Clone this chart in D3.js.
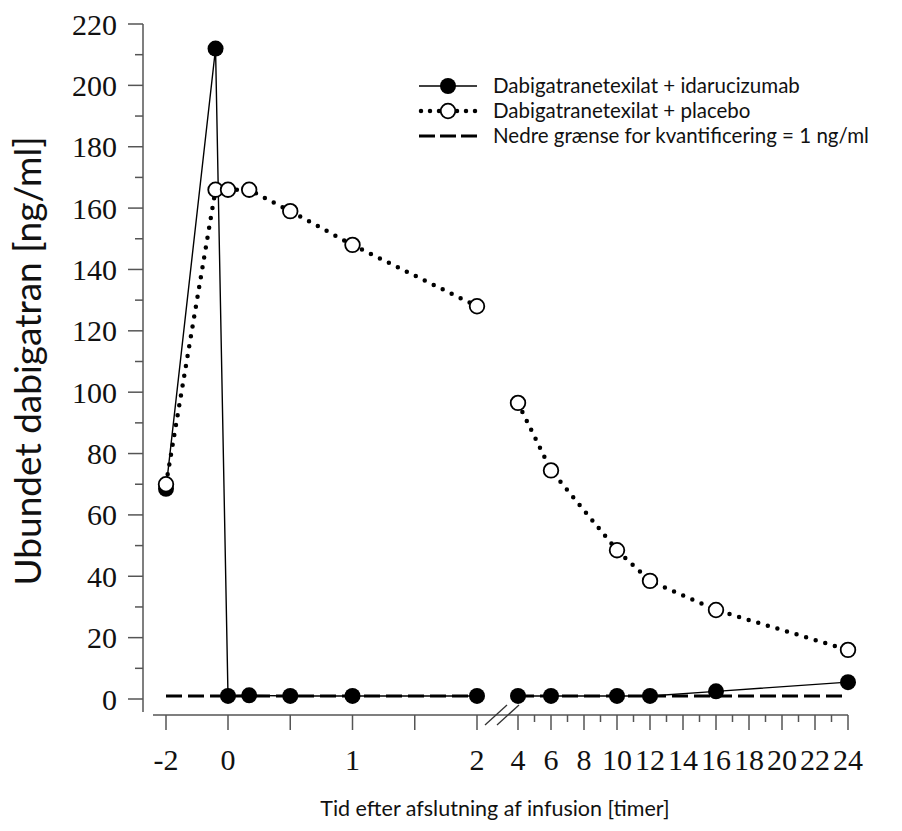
<!DOCTYPE html>
<html><head><meta charset="utf-8">
<script src="https://cdn.jsdelivr.net/npm/d3@7"></script>
<style>body{margin:0;background:#fff}svg{display:block}</style>
</head><body>
<svg id="c" width="902" height="831"></svg>
<script>
// ---- data ----
const times = [-2, -0.1, 0, 0.17, 0.5, 1, 2, 4, 6, 10, 12, 16, 24];
const idarucizumab = [68.5, 212, 1, 1.2, 1, 1, 1, 1, 1, 1, 1, 2.5, 5.5];
const placebo = [70, 166, 166, 166, 159, 148, 128, 96.5, 74.5, 48.5, 38.5, 29, 16];
const lloq = 1;
const yTicks = [0, 20, 40, 60, 80, 100, 120, 140, 160, 180, 200, 220];
const xTicksLeft = [-2, 0, 0.5, 1, 1.5, 2];
const xLabelsLeft = [-2, 0, 1, 2];
const xTicksRight = d3.range(4, 25, 1);
const xLabelsRight = [4, 6, 8, 10, 12, 14, 16, 18, 20, 22, 24];
const legendLabels = ["Dabigatranetexilat + idarucizumab", "Dabigatranetexilat + placebo", "Nedre grænse for kvantificering = 1 ng/ml"];
const yTitle = "Ubundet dabigatran [ng/ml]";
const xTitle = "Tid efter afslutning af infusion [timer]";

const svg = d3.select("#c");
const axisCol = "#555";
const serif = "'Liberation Serif','Times New Roman',serif";
const sans = "Lato,'Open Sans',sans-serif";

const y = d3.scaleLinear().domain([0, 220]).range([699, 24]);
const xL = d3.scaleLinear().domain([-2, -0.3, 2]).range([166, 190.65, 477]);
const xR = d3.scaleLinear().domain([4, 24]).range([518, 848]);
const xp = t => t <= 2 ? xL(t) : xR(t);

// y axis
const gy = svg.append("g").attr("stroke", axisCol).attr("stroke-width", 1.5);
gy.append("line").attr("x1", 143).attr("x2", 143).attr("y1", y(220)).attr("y2", 712);
d3.range(0, 221, 10).forEach(v => {
  const major = v % 20 === 0;
  gy.append("line").attr("x1", major ? 128 : 135).attr("x2", 143).attr("y1", y(v)).attr("y2", y(v));
});
svg.append("g").selectAll("text").data(yTicks).join("text")
  .attr("x", 117).attr("y", d => y(d)).attr("dy", "0.35em")
  .attr("text-anchor", "end").attr("font-family", serif).attr("font-size", 30).attr("fill", "#111")
  .text(d => d);

// x axis
const gx = svg.append("g").attr("stroke", axisCol).attr("stroke-width", 1.5);
gx.append("line").attr("x1", 153).attr("x2", xR(24)).attr("y1", 715).attr("y2", 715);
xTicksLeft.forEach(t => gx.append("line").attr("x1", xL(t)).attr("x2", xL(t)).attr("y1", 715).attr("y2", 730));
xTicksRight.forEach(t => {
  const major = t % 2 === 0;
  gx.append("line").attr("x1", xR(t)).attr("x2", xR(t)).attr("y1", 715).attr("y2", major ? 730 : 722);
});
// break marks
const brk = svg.append("g").attr("stroke", "#333").attr("stroke-width", 1.3);
brk.append("line").attr("x1", 485).attr("y1", 725).attr("x2", 507).attr("y2", 705);
brk.append("line").attr("x1", 497).attr("y1", 725).attr("x2", 519).attr("y2", 705);

svg.append("g").selectAll("text").data(xLabelsLeft).join("text")
  .attr("x", d => xL(d)).attr("y", 770).attr("text-anchor", "middle")
  .attr("font-family", serif).attr("font-size", 30).attr("fill", "#111")
  .text(d => d);
svg.append("g").selectAll("text").data(xLabelsRight).join("text")
  .attr("x", d => xR(d)).attr("y", 770).attr("text-anchor", "middle")
  .attr("font-family", serif).attr("font-size", 30).attr("fill", "#111")
  .text(d => d);

// titles
svg.append("text").attr("transform", "translate(41,361) rotate(-90)")
  .attr("text-anchor", "middle").attr("font-family", sans).attr("font-size", 37).attr("fill", "#111")
  .text(yTitle);
svg.append("text").attr("x", 495).attr("y", 816).attr("text-anchor", "middle")
  .attr("font-family", sans).attr("font-size", 21.5).attr("fill", "#111")
  .text(xTitle);

// series
const line = d3.line().x(d => xp(d[0])).y(d => y(d[1]));
const idaPts = times.map((t, i) => [t, idarucizumab[i]]);
const plaPts = times.map((t, i) => [t, placebo[i]]);
const split = pts => [pts.filter(d => d[0] <= 2), pts.filter(d => d[0] >= 4)];

// LLOQ
[[-2, 2], [4, 24]].forEach(([a, b]) => {
  svg.append("path").attr("d", line([[a, lloq], [b, lloq]]))
    .attr("stroke", "#000").attr("stroke-width", 3).attr("fill", "none")
    .attr("stroke-dasharray", "16,6");
});
split(idaPts).forEach(seg => svg.append("path").attr("d", line(seg))
  .attr("stroke", "#000").attr("stroke-width", 1.4).attr("fill", "none"));
split(plaPts).forEach(seg => svg.append("path").attr("d", line(seg))
  .attr("stroke", "#000").attr("stroke-width", 4.5).attr("fill", "none")
  .attr("stroke-linecap", "round").attr("stroke-dasharray", "0,10"));

svg.append("g").selectAll("circle").data(idaPts).join("circle")
  .attr("cx", d => xp(d[0])).attr("cy", d => y(d[1])).attr("r", 8).attr("fill", "#000");
svg.append("g").selectAll("circle").data(plaPts).join("circle")
  .attr("cx", d => xp(d[0])).attr("cy", d => y(d[1])).attr("r", 7.3)
  .attr("fill", "#fff").attr("stroke", "#000").attr("stroke-width", 1.8);

// legend
const lg = svg.append("g");
const rowY = [86, 111, 136];
const lx1 = 419, lx2 = 477, lxm = 448;
lg.append("line").attr("x1", lx1).attr("x2", lx2).attr("y1", rowY[0]).attr("y2", rowY[0]).attr("stroke", "#000").attr("stroke-width", 1.4);
lg.append("circle").attr("cx", lxm).attr("cy", rowY[0]).attr("r", 8).attr("fill", "#000");
lg.append("line").attr("x1", lx1 + 2).attr("x2", lx2).attr("y1", rowY[1]).attr("y2", rowY[1]).attr("stroke", "#000")
  .attr("stroke-width", 4.5).attr("stroke-linecap", "round").attr("stroke-dasharray", "0,9");
lg.append("circle").attr("cx", lxm).attr("cy", rowY[1]).attr("r", 7.3).attr("fill", "#fff").attr("stroke", "#000").attr("stroke-width", 1.8);
lg.append("line").attr("x1", lx1).attr("x2", lx2).attr("y1", rowY[2]).attr("y2", rowY[2]).attr("stroke", "#000")
  .attr("stroke-width", 3).attr("stroke-dasharray", "16,5");
lg.selectAll("text").data(legendLabels).join("text")
  .attr("x", 493).attr("y", (d, i) => rowY[i]).attr("dy", "0.35em")
  .attr("font-family", sans).attr("font-size", 20.5).attr("fill", "#111")
  .text(d => d);
</script>
</body></html>
